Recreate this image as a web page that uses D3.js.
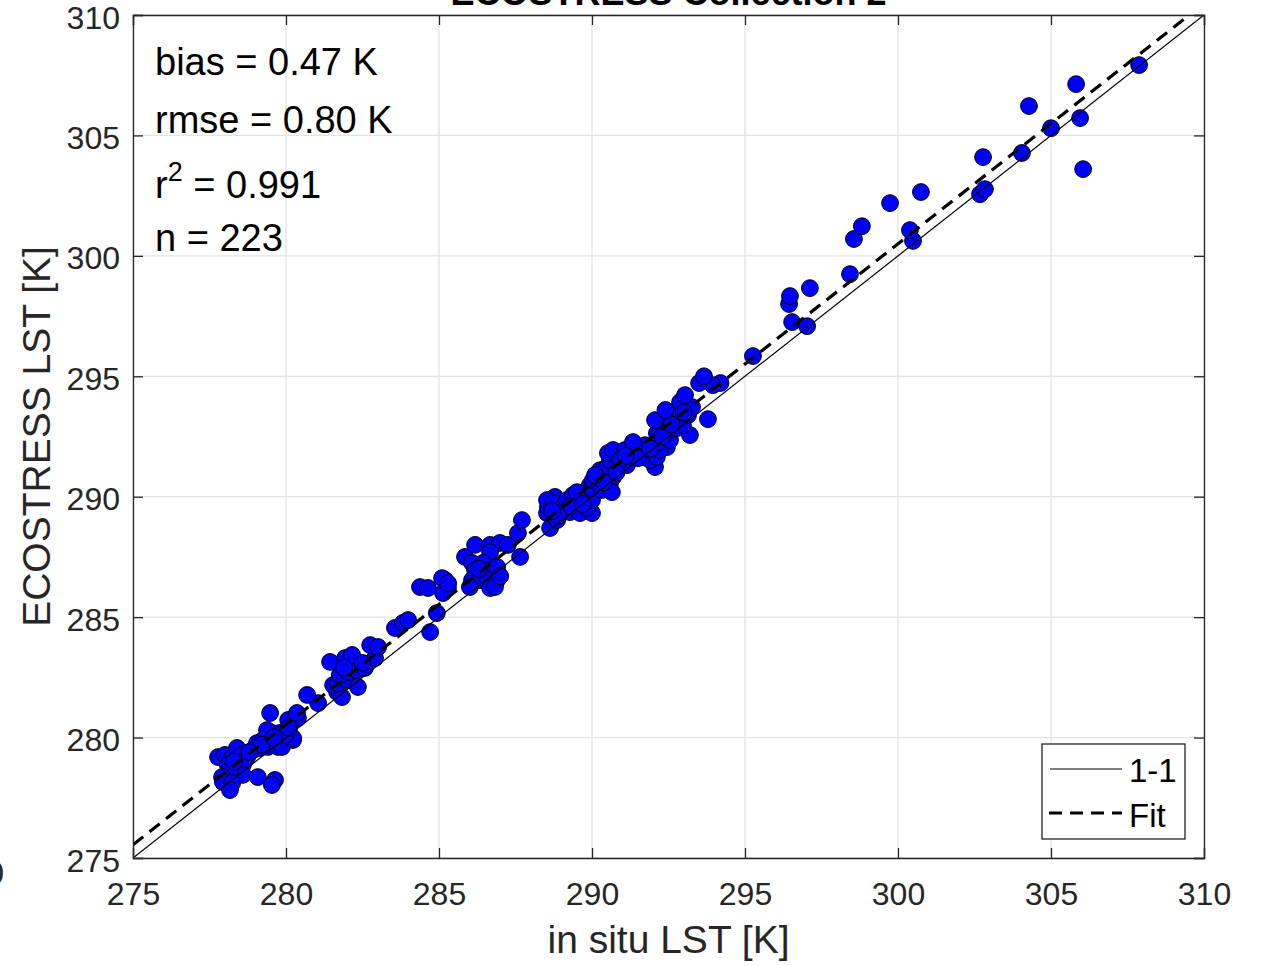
<!DOCTYPE html>
<html>
<head>
<meta charset="utf-8">
<script src="https://cdn.jsdelivr.net/npm/d3@7/dist/d3.min.js"></script>
<style>
  html, body { margin: 0; padding: 0; background: #fff; }
  svg { display: block; font-family: "Liberation Sans", Arial, Helvetica, sans-serif; }
</style>
</head>
<body>
<svg id="chart" width="1261" height="966"></svg>
<script>
// ---- data ----
const titleText = "ECOSTRESS Collection 2";
const xLabel = "in situ LST [K]";
const yLabel = "ECOSTRESS LST [K]";
const tickValues = [275, 280, 285, 290, 295, 300, 305, 310];
const axisDomain = [275, 310];
const statsLines = ["bias = 0.47 K", "rmse = 0.80 K", "r2 = 0.991", "n = 223"];
const fitSlope = 0.998;
const fitIntercept = 1.1;
const legendLabels = ["1-1", "Fit"];

const insituLST = [
277.78,278.01,278.24,278.40,278.56,278.73,278.43,278.10,278.59,278.59,278.17,277.91,277.94,278.24,278.17,279.08,279.64,279.54,
278.92,279.05,279.15,279.25,279.41,279.74,279.87,280.23,280.23,279.97,279.80,279.54,279.38,279.48,280.07,280.39,280.36,281.05,
280.69,281.67,281.83,281.54,281.70,281.99,281.76,282.03,282.32,282.35,281.44,281.93,282.16,282.58,282.91,282.75,283.01,283.56,
283.82,283.99,284.71,284.93,284.38,284.64,285.20,285.10,285.29,285.13,285.85,286.08,286.18,286.67,286.99,287.25,286.67,286.44,
286.41,286.18,286.67,286.90,286.08,286.34,286.60,286.90,286.67,286.83,286.01,287.65,287.58,287.71,288.53,288.63,288.86,288.56,
288.79,288.53,288.73,289.02,289.18,289.28,289.61,290.00,289.84,289.51,290.00,289.61,289.93,289.38,289.51,290.00,290.03,290.26,
290.59,290.16,290.26,290.42,290.69,290.49,290.82,290.59,290.52,290.69,291.14,290.92,291.08,291.24,291.47,291.73,291.34,291.63,
292.06,291.90,292.12,292.45,292.22,292.12,292.12,292.55,292.22,292.06,292.45,292.78,292.65,292.78,293.20,292.97,293.14,293.27,
292.88,293.04,293.79,294.20,293.95,293.50,293.66,290.33,290.65,295.26,296.54,297.03,296.44,296.47,297.12,298.43,298.56,298.82,
300.49,300.39,299.74,300.75,302.68,302.84,302.78,304.05,304.28,305.00,305.82,305.95,306.05,307.88,
289.30,289.70,290.40,290.80,291.50,291.90,292.30,292.60,293.00,292.40,291.10,290.10,288.90,288.70,287.00,286.30,285.30,282.50,
281.90,279.20,278.80,278.30,279.60,280.10
];
const ecostressLST = [
279.19,279.28,279.15,279.57,279.28,279.19,278.99,278.86,278.86,278.45,278.65,278.36,278.15,278.11,277.82,278.36,278.24,278.03,
279.48,279.77,279.57,279.90,279.61,279.61,279.61,279.90,279.98,280.10,280.19,280.19,280.31,281.02,280.73,280.81,281.02,281.43,
281.77,281.89,281.68,282.18,282.26,282.39,282.60,282.72,282.80,282.10,283.14,283.30,283.43,282.89,283.30,283.84,283.76,284.55,
284.76,284.88,284.38,285.17,286.25,286.21,286.54,286.62,286.21,286.00,287.50,287.25,288.00,288.00,288.08,288.00,287.70,287.25,
286.95,286.95,286.95,287.08,286.54,286.54,286.54,286.54,286.21,286.25,286.25,287.50,288.49,289.03,289.32,288.70,289.03,289.57,
289.99,289.86,289.74,289.53,289.86,289.36,289.32,289.32,289.53,289.74,289.86,290.15,290.48,290.07,290.19,290.36,290.69,290.48,
290.57,290.82,291.10,290.90,290.82,291.23,291.23,291.52,291.81,291.94,291.31,291.52,291.94,291.65,291.94,292.14,292.27,291.65,
291.23,291.52,291.65,292.06,291.94,292.23,292.64,292.35,292.97,293.18,292.68,292.85,293.27,293.60,292.56,292.97,293.39,293.72,
293.93,294.22,293.22,294.72,294.63,294.72,295.00,290.28,290.19,295.84,297.25,297.08,298.00,298.33,298.66,299.24,300.70,301.23,
300.62,301.07,302.19,302.65,302.56,302.77,304.10,304.27,306.22,305.30,307.13,305.72,303.60,307.92,
289.60,289.70,290.60,291.00,291.60,292.00,292.50,293.00,293.50,293.60,291.70,290.90,289.20,289.40,286.70,287.00,286.40,283.10,
282.90,279.70,279.40,279.00,280.00,280.40
];

// ---- layout ----
const svg = d3.select("#chart");
const L = 133, R = 1204, T = 15, B = 858;
const x = d3.scaleLinear().domain(axisDomain).range([L, R]);
const y = d3.scaleLinear().domain(axisDomain).range([B, T]);
const axisColor = "#262626";

svg.append("defs").append("clipPath").attr("id", "plotclip")
  .append("rect").attr("x", L).attr("y", T).attr("width", R - L).attr("height", B - T);

// grid
const grid = svg.append("g");
grid.selectAll("line.gx").data(tickValues).join("line")
  .attr("x1", d => x(d)).attr("x2", d => x(d)).attr("y1", T).attr("y2", B)
  .attr("stroke", "#e3e3e3").attr("stroke-width", 1.3);
grid.selectAll("line.gy").data(tickValues).join("line")
  .attr("y1", d => y(d)).attr("y2", d => y(d)).attr("x1", L).attr("x2", R)
  .attr("stroke", "#e3e3e3").attr("stroke-width", 1.3);

// points
const pts = insituLST.map((v, i) => [v, ecostressLST[i]]);
svg.append("g").selectAll("circle").data(pts).join("circle")
  .attr("cx", d => x(d[0])).attr("cy", d => y(d[1])).attr("r", 8.4)
  .attr("fill", "#0000ff").attr("stroke", "#000").attr("stroke-width", 1);

// lines
const lines = svg.append("g").attr("clip-path", "url(#plotclip)");
lines.append("line")
  .attr("x1", x(275)).attr("y1", y(275)).attr("x2", x(310)).attr("y2", y(310))
  .attr("stroke", "#000").attr("stroke-width", 1.2);
lines.append("line")
  .attr("x1", x(275)).attr("y1", y(fitSlope * 275 + fitIntercept))
  .attr("x2", x(312)).attr("y2", y(fitSlope * 312 + fitIntercept))
  .attr("stroke", "#000").attr("stroke-width", 3.2).attr("stroke-dasharray", "13,8");

// axes
const fs = 32;
const xAxis = svg.append("g").attr("transform", `translate(0,${B})`)
  .call(d3.axisBottom(x).tickValues(tickValues).tickSize(-10).tickPadding(24).tickFormat(d3.format("d")));
const yAxis = svg.append("g").attr("transform", `translate(${L},0)`)
  .call(d3.axisLeft(y).tickValues(tickValues).tickSize(-10).tickPadding(14).tickFormat(d3.format("d")));
const xTop = svg.append("g").attr("transform", `translate(0,${T})`)
  .call(d3.axisTop(x).tickValues(tickValues).tickSize(-10).tickFormat(""));
const yRight = svg.append("g").attr("transform", `translate(${R},0)`)
  .call(d3.axisRight(y).tickValues(tickValues).tickSize(-10).tickFormat(""));
[xAxis, yAxis, xTop, yRight].forEach(g => {
  g.select(".domain").attr("stroke", axisColor).attr("stroke-width", 1.3);
  g.selectAll(".tick line").attr("stroke", axisColor).attr("stroke-width", 1.3);
  g.selectAll(".tick text").attr("fill", axisColor).attr("font-size", fs)
    .attr("font-family", "Liberation Sans, Arial, sans-serif");
});
xAxis.selectAll(".tick text").attr("dy", 0).attr("y", 47);
yAxis.selectAll(".tick text").attr("dy", 0).attr("y", 13).attr("x", -13);

// title (cut off at the top, as in the reference)
svg.append("text").attr("x", (L + R) / 2).attr("y", 5).attr("text-anchor", "middle")
  .attr("font-size", 36).attr("font-weight", "bold").attr("fill", "#000").text(titleText);

// axis labels
svg.append("text").attr("x", (L + R) / 2).attr("y", 953).attr("text-anchor", "middle")
  .attr("font-size", 39).attr("fill", axisColor).text(xLabel);
svg.append("text").attr("transform", `translate(50,${(T + B) / 2}) rotate(-90)`)
  .attr("text-anchor", "middle").attr("font-size", 39).attr("fill", axisColor).text(yLabel);

// stray glyph at the left edge (cut off, as in the reference)
svg.append("text").attr("x", 4).attr("y", 884).attr("text-anchor", "end")
  .attr("font-size", 32).attr("fill", axisColor).text("0");

// stats annotation
const stats = svg.append("g").attr("font-size", 38).attr("fill", "#000");
const statY = [75, 133, 198, 251];
statsLines.forEach((s, i) => {
  const t = stats.append("text").attr("x", 155).attr("y", statY[i]);
  if (s.startsWith("r2")) {
    t.append("tspan").text("r");
    t.append("tspan").attr("font-size", 27).attr("dy", -17).text("2");
    t.append("tspan").attr("dy", 17).text(" = 0.991");
  } else {
    t.text(s);
  }
});

// legend
const lg = svg.append("g");
lg.append("rect").attr("x", 1042).attr("y", 744).attr("width", 143).attr("height", 95)
  .attr("fill", "#fff").attr("stroke", axisColor).attr("stroke-width", 1.3);
lg.append("line").attr("x1", 1050).attr("x2", 1122).attr("y1", 769).attr("y2", 769)
  .attr("stroke", "#000").attr("stroke-width", 1.2);
lg.append("line").attr("x1", 1049).attr("x2", 1122).attr("y1", 813).attr("y2", 813)
  .attr("stroke", "#000").attr("stroke-width", 3.2).attr("stroke-dasharray", "13,8");
lg.append("text").attr("x", 1129).attr("y", 782).attr("font-size", 33).attr("fill", "#000").text(legendLabels[0]);
lg.append("text").attr("x", 1129).attr("y", 827).attr("font-size", 33).attr("fill", "#000").text(legendLabels[1]);
</script>
</body>
</html>
